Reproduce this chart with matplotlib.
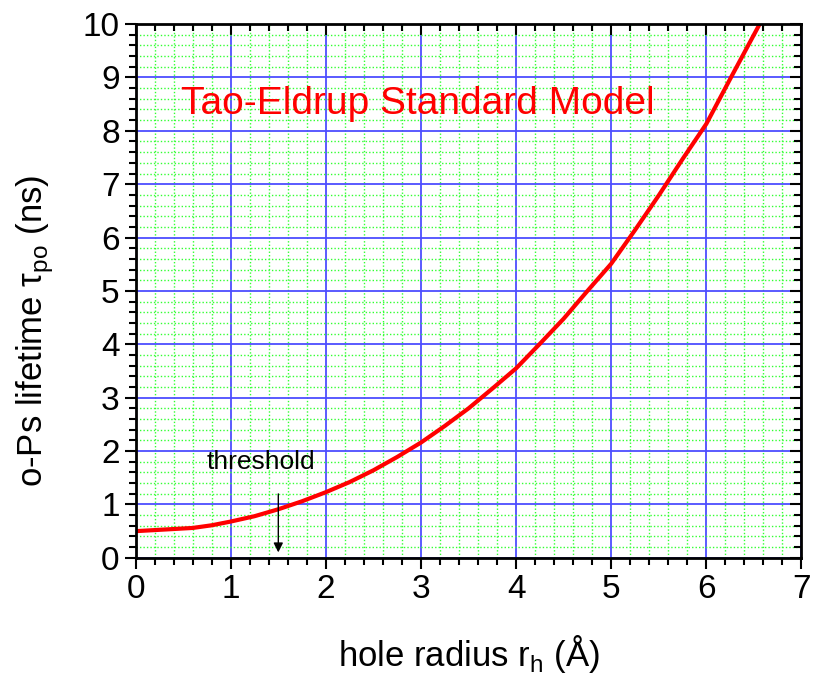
import numpy as np
import matplotlib.pyplot as plt
from matplotlib.ticker import MultipleLocator

# hole radius (A) and o-Ps lifetime (ns)
radius = [0.0, 0.6, 0.8, 1.0, 1.25, 1.5, 1.75, 2.0, 2.25, 2.5, 2.75, 3.0, 3.25,
          3.5, 3.75, 4.0, 4.25, 4.5, 4.75, 5.0, 5.25, 5.5, 5.75, 6.0, 6.25, 6.6]
lifetime = [0.50, 0.56, 0.61, 0.68, 0.78, 0.91, 1.06, 1.23, 1.42, 1.64, 1.89, 2.16, 2.47,
            2.80, 3.17, 3.55, 4.01, 4.48, 5.00, 5.51, 6.14, 6.79, 7.47, 8.13, 8.97, 10.13]

threshold_r = 1.5

plt.rcParams['font.family'] = ['Liberation Sans', 'DejaVu Sans']

fig, ax = plt.subplots(figsize=(8.22, 6.87), dpi=100)
fig.subplots_adjust(left=0.165, right=0.975, top=0.965, bottom=0.188)

ax.plot(radius, lifetime, color='red', lw=3)

ax.set_xlim(0, 7)
ax.set_ylim(0, 10)
ax.xaxis.set_major_locator(MultipleLocator(1))
ax.xaxis.set_minor_locator(MultipleLocator(0.2))
ax.yaxis.set_major_locator(MultipleLocator(1))
ax.yaxis.set_minor_locator(MultipleLocator(0.2))

ax.grid(which='minor', color='#33ff33', ls=(0, (1, 1.5)), lw=1)
ax.grid(which='major', color='#4d4dff', ls='-', lw=1.3)
ax.set_axisbelow(True)

for s in ax.spines.values():
    s.set_linewidth(2)
ax.tick_params(which='both', direction='out', width=1.5, labelsize=24)
ax.tick_params(which='major', length=8)
ax.tick_params(which='minor', length=5)
ax.tick_params(top=True, right=True, which='both')

# ticks on top and right point inward, bottom/left point outward
for t in ax.xaxis.get_major_ticks() + ax.xaxis.get_minor_ticks():
    t.tick2line.set_marker(3)
for t in ax.yaxis.get_major_ticks() + ax.yaxis.get_minor_ticks():
    t.tick2line.set_marker(0)

ax.set_xlabel(r'hole radius r$_\mathregular{h}$ (Å)', fontsize=25, labelpad=20)
ax.set_ylabel(r'o-Ps lifetime τ$_\mathregular{po}$ (ns)', fontsize=25)
ax.yaxis.set_label_coords(-0.12, 0.425)

ax.text(0.48, 8.5, 'Tao-Eldrup Standard Model', color='red', fontsize=28,
        va='center', ha='left')

ax.text(0.75, 1.8, 'threshold', fontsize=19, va='center', ha='left')
ax.annotate('', xy=(threshold_r, 0.05), xytext=(threshold_r, 1.25),
            arrowprops=dict(arrowstyle='-|>', color='black', lw=1, mutation_scale=14))

fig.savefig('out.png', dpi=100)
